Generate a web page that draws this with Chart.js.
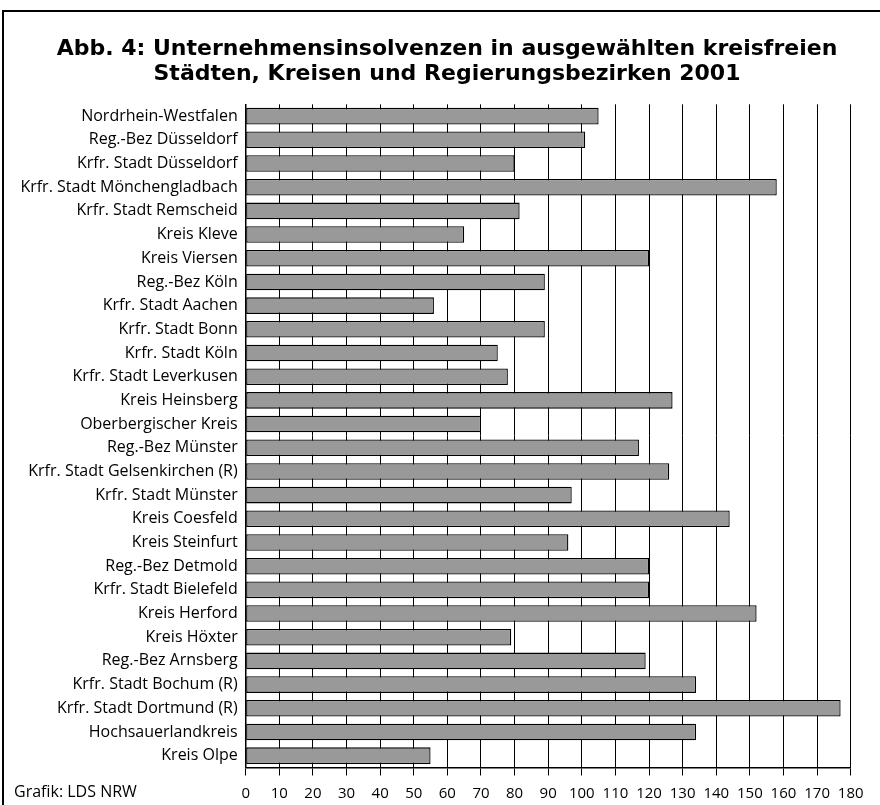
<!DOCTYPE html>
<html lang="de">
<head>
<meta charset="utf-8">
<title>Unternehmensinsolvenzen 2001</title>
<script src="https://cdn.jsdelivr.net/npm/chart.js@4.4.1/dist/chart.umd.min.js"></script>
<style>
    html, body { margin: 0; padding: 0; background: #ffffff; }
    #wrap { position: relative; width: 880px; height: 805px; overflow: hidden; }
    /* Rahmen: nur links und oben sichtbar */
    #frame {
        position: absolute; left: 2px; top: 10px; width: 900px; height: 820px;
        border-left: 2px solid #000; border-top: 2px solid #000;
    }
    #chart { position: absolute; left: 0; top: 0; }
</style>
</head>
<body>
<div id="wrap">
    <div id="frame"></div>
    <canvas id="chart" width="880" height="805"></canvas>
</div>
<script>
// Daten
const categories = [
    'Nordrhein-Westfalen',
    'Reg.-Bez Düsseldorf',
    'Krfr. Stadt Düsseldorf',
    'Krfr. Stadt Mönchengladbach',
    'Krfr. Stadt Remscheid',
    'Kreis Kleve',
    'Kreis Viersen',
    'Reg.-Bez Köln',
    'Krfr. Stadt Aachen',
    'Krfr. Stadt Bonn',
    'Krfr. Stadt Köln',
    'Krfr. Stadt Leverkusen',
    'Kreis Heinsberg',
    'Oberbergischer Kreis',
    'Reg.-Bez Münster',
    'Krfr. Stadt Gelsenkirchen (R)',
    'Krfr. Stadt Münster',
    'Kreis Coesfeld',
    'Kreis Steinfurt',
    'Reg.-Bez Detmold',
    'Krfr. Stadt Bielefeld',
    'Kreis Herford',
    'Kreis Höxter',
    'Reg.-Bez Arnsberg',
    'Krfr. Stadt Bochum (R)',
    'Krfr. Stadt Dortmund (R)',
    'Hochsauerlandkreis',
    'Kreis Olpe'
];

const insolvenzen = [
    105, 101, 80, 158, 81.5, 65, 120,
    89, 56, 89, 75, 78, 127, 70,
    117, 126, 97, 144, 96,
    120, 120, 152, 79,
    119, 134, 177, 134, 55
];

const xMin = 0;
const xMax = 180;
const xStep = 10;

const titleLines = [
    'Abb. 4: Unternehmensinsolvenzen in ausgewählten kreisfreien',
    'Städten, Kreisen und Regierungsbezirken 2001'
];
const quelle = 'Grafik: LDS NRW';

const FONT = "'Open Sans', 'Noto Sans', sans-serif";

// Überschrift (zweizeilig) und Quellenangabe selbst zeichnen
const textPlugin = {
    id: 'texte',
    afterDraw: (chart) => {
        const { ctx } = chart;
        ctx.save();
        ctx.fillStyle = '#000';
        ctx.textAlign = 'center';
        ctx.textBaseline = 'alphabetic';
        ctx.font = "bold 22px 'DejaVu Sans', sans-serif";
        titleLines.forEach((line, i) => ctx.fillText(line, 447, 55 + i * 25));

        ctx.font = `16px ${FONT}`;
        ctx.textAlign = 'left';
        ctx.textBaseline = 'middle';
        ctx.fillText(quelle, 14, 792);
        ctx.restore();
    }
};

const padLeft = 6;

new Chart(document.getElementById('chart'), {
    type: 'bar',
    data: {
        labels: categories,
        datasets: [{
            data: insolvenzen,
            backgroundColor: '#999999',
            borderColor: '#000000',
            borderWidth: 1.3,
            borderSkipped: false,
            barPercentage: 0.7,
            categoryPercentage: 1.0
        }]
    },
    options: {
        indexAxis: 'y',
        responsive: false,
        animation: false,
        devicePixelRatio: 1,
        layout: {
            padding: { left: padLeft, right: 29.3, top: 104.3, bottom: 0 }
        },
        plugins: {
            legend: { display: false },
            tooltip: { enabled: false },
            title: { display: false }
        },
        scales: {
            x: {
                min: xMin,
                max: xMax,
                ticks: {
                    stepSize: xStep,
                    color: '#000',
                    font: { family: FONT, size: 15 },
                    padding: 9,
                    maxRotation: 0,
                    autoSkip: false
                },
                grid: {
                    color: '#000',
                    lineWidth: 1,
                    drawTicks: true,
                    tickLength: 8,
                    tickColor: '#000'
                },
                border: { color: '#000', width: 1.5 },
                afterFit: (scale) => { scale.height = 37.5; }
            },
            y: {
                ticks: {
                    color: '#000',
                    font: { family: FONT, size: 16 },
                    padding: 8,
                    autoSkip: false
                },
                grid: { display: false, drawTicks: false },
                border: { color: '#000', width: 1.5 },
                afterFit: (scale) => { scale.width = 245.7 - padLeft; }
            }
        }
    },
    plugins: [textPlugin]
});
</script>
</body>
</html>
